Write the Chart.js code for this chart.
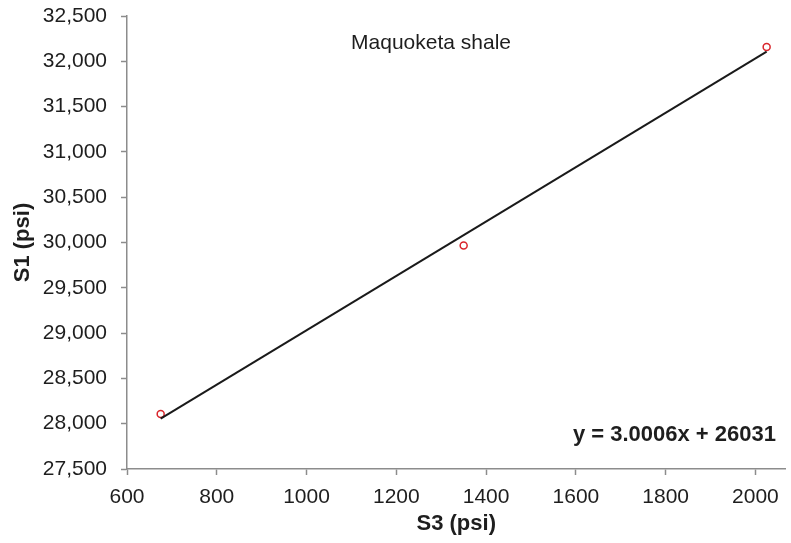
<!DOCTYPE html>
<html>
<head>
<meta charset="utf-8">
<script src="https://cdn.jsdelivr.net/npm/chart.js@4"></script>
<style>
  html, body { margin: 0; padding: 0; background: #fff; }
  #wrap { width: 791px; height: 543px; position: relative; }
</style>
</head>
<body>
<div id="wrap"><canvas id="chart"></canvas></div>
<script>
// measured points (S3, S1)
const s3Values = [675, 1350, 2025];
const s1Values = [28106, 29968, 32157];
// trend line ends
const trendX = [675, 2025];
const trendY = [28056, 32107];
const xTicks = [600, 800, 1000, 1200, 1400, 1600, 1800, 2000];
const yTicks = [27500, 28000, 28500, 29000, 29500, 30000, 30500, 31000, 31500, 32000, 32500];
const chartTitle = "Maquoketa shale";
const equationText = "y = 3.0006x + 26031";

const FONT = "'Liberation Sans', Arial, sans-serif";
const axisGray = "#8c8c8c";

// draws the title and the equation inside the plot
const labelsPlugin = {
	id: "labels",
	afterDraw(chart) {
		const { ctx } = chart;
		ctx.save();
		ctx.fillStyle = "#1e1e1e";
		ctx.font = "21px " + FONT;
		ctx.textAlign = "center";
		ctx.textBaseline = "middle";
		ctx.fillText(chartTitle, 431, 43);
		ctx.font = "bold 22px " + FONT;
		ctx.textAlign = "right";
		ctx.fillText(equationText, 776, 435);
		ctx.restore();
	},
};

new Chart(document.getElementById("chart"), {
	type: "scatter",
	data: {
		datasets: [
			{
				label: "trend",
				data: trendX.map((x, i) => ({ x, y: trendY[i] })),
				showLine: true,
				borderColor: "#1a1a1a",
				borderWidth: 2,
				pointRadius: 0,
			},
			{
				label: "S1",
				data: s3Values.map((x, i) => ({ x, y: s1Values[i] })),
				pointRadius: 3.5,
				pointBorderWidth: 1.5,
				pointBorderColor: "#d9262c",
				pointBackgroundColor: "#fff",
			},
		],
	},
	options: {
		responsive: true,
		maintainAspectRatio: false,
		animation: false,
		layout: { padding: { top: 16, right: 0, left: 0, bottom: 0 } },
		plugins: {
			legend: { display: false },
			tooltip: { enabled: false },
		},
		scales: {
			x: {
				type: "linear",
				min: 600,
				max: 2067,
				afterBuildTicks: (s) => { s.ticks = xTicks.map((v) => ({ value: v })); },
				afterFit: (s) => { s.height = 74; s.paddingLeft = 0; s.paddingRight = 0; },
				ticks: {
					color: "#1e1e1e",
					font: { family: FONT, size: 21 },
					padding: 10,
					maxRotation: 0,
					callback: (v) => String(v),
				},
				grid: { drawOnChartArea: false, tickLength: 6, tickColor: axisGray, tickWidth: 1.5 },
				border: { color: axisGray, width: 1.5 },
				title: {
					display: true,
					text: "S3 (psi)",
					color: "#1e1e1e",
					font: { family: FONT, size: 22, weight: "bold" },
					padding: { top: 0, bottom: 6 },
				},
			},
			y: {
				min: 27500,
				max: 32500,
				afterBuildTicks: (s) => { s.ticks = yTicks.map((v) => ({ value: v })); },
				afterFit: (s) => { s.width = 127; s.paddingTop = 0; s.paddingBottom = 0; },
				ticks: {
					color: "#1e1e1e",
					font: { family: FONT, size: 21 },
					padding: 14,
					callback: (v) => v.toLocaleString("en-US"),
				},
				grid: { drawOnChartArea: false, tickLength: 6, tickColor: axisGray, tickWidth: 1.5 },
				border: { color: axisGray, width: 1.5 },
				title: {
					display: true,
					text: "S1 (psi)",
					color: "#1e1e1e",
					font: { family: FONT, size: 22, weight: "bold" },
					padding: { top: 10, bottom: 0 },
				},
			},
		},
	},
	plugins: [labelsPlugin],
});
</script>
</body>
</html>
